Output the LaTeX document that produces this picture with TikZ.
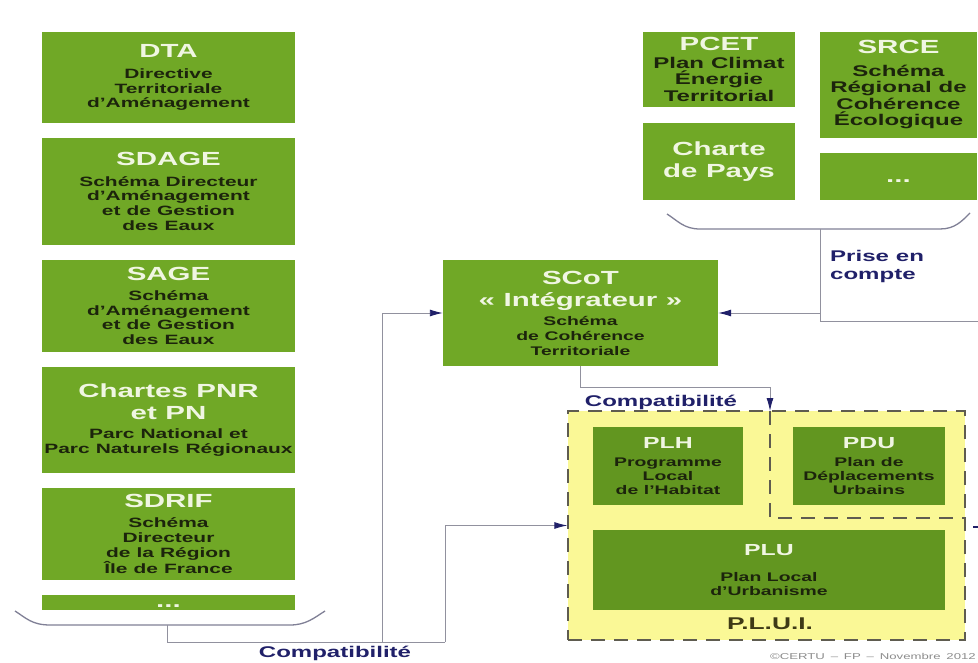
\documentclass[tikz,border=0pt]{standalone}
\usepackage{fontspec}
\setmainfont{Liberation Sans}[FakeStretch=1.55, WordSpace=1.6]
\usetikzlibrary{arrows.meta}
\setlength{\parindent}{0pt}
\definecolor{gfill}{RGB}{112,168,38}
\definecolor{dfill}{RGB}{98,150,32}
\definecolor{yfill}{RGB}{250,248,150}
\definecolor{ttlc}{RGB}{240,246,226}
\definecolor{subc}{RGB}{28,36,12}
\definecolor{navy}{RGB}{32,32,105}
\definecolor{linec}{RGB}{145,145,158}
\definecolor{pluic}{RGB}{62,58,22}
\definecolor{dashc}{RGB}{95,92,80}
\newcommand\dgsp{\spaceskip=.45em\relax}
\newcommand\dgT[1]{{\fontsize{19}{22}\selectfont\bfseries\dgsp\leavevmode\color{ttlc}#1\par}}
\newcommand\dgTs[1]{{\fontsize{16}{19}\selectfont\bfseries\dgsp\leavevmode\color{ttlc}#1\par}}
\newcommand\dgS[1]{{\fontsize{13.5}{14.8}\selectfont\bfseries\dgsp\leavevmode#1\par}}
\newcommand\dgM[1]{{\fontsize{15.5}{16.5}\selectfont\bfseries\dgsp\leavevmode#1\par}}
\newcommand\dgP[1]{{\fontsize{12.5}{14}\selectfont\bfseries\dgsp\leavevmode#1\par}}
\newcommand\dgC[1]{{\fontsize{12.5}{15}\selectfont\bfseries\dgsp\leavevmode#1\par}}
\newcommand\dgTi[1]{{\fontsize{19}{22}\selectfont\bfseries\color{ttlc}#1}}
\tikzset{
  gbox/.style n args={3}{fill=#1, draw=none, inner sep=0pt, minimum width=#2,
     minimum height=#3, text width=#2, align=center, text=subc},
  conn/.style={draw=linec, line width=0.9pt},
  arr/.style={conn, -{Latex[length=13pt,width=7pt,color=navy]}},
  brk/.style={draw=linec!85!navy, line width=1.3pt},
  lbl/.style={font=\fontsize{15.5}{18}\selectfont\bfseries\dgsp, text=navy, inner sep=0pt},
  dsh/.style={draw=dashc, line width=1.3pt, dash pattern=on 14pt off 9pt},
}
\begin{document}
\begin{tikzpicture}[x=1pt,y=-1pt]
\useasboundingbox[fill=white] (0,0) rectangle (978,663);

% left column
\node[gbox={gfill}{253pt}{91pt}] (dta) at (168.5,77.5)
  {\dgT{DTA}\vspace{6pt}\dgS{Directive\\Territoriale\\d'Aménagement}};
\node[gbox={gfill}{253pt}{107pt}] (sdage) at (168.5,191.5)
  {\dgT{SDAGE}\vspace{5.5pt}\dgS{Schéma Directeur\\d'Aménagement\\et de Gestion\\des Eaux}};
\node[gbox={gfill}{253pt}{92pt}] (sage) at (168.5,306)
  {\dgT{SAGE}\vspace{5pt}\dgS{Schéma\\d'Aménagement\\et de Gestion\\des Eaux}};
\node[gbox={gfill}{253pt}{106pt}] (pnr) at (168.5,420)
  {\dgT{Chartes PNR\\et PN}\vspace{5pt}\dgS{Parc National et\\Parc Naturels Régionaux}};
\node[gbox={gfill}{253pt}{92pt}] (sdrif) at (168.5,534)
  {\dgT{SDRIF}\vspace{5.5pt}\dgS{Schéma\\Directeur\\de la Région\\Île de France}};
\node[gbox={gfill}{253pt}{15pt}] (lmore) at (168.5,602.5)
  {\raisebox{-4.5pt}[0pt][0pt]{\dgTi{...}}};

% top right
\node[gbox={gfill}{152pt}{75pt}] (pcet) at (719,69.5)
  {\dgT{PCET}\vspace{1pt}\dgM{Plan Climat\\Énergie\\Territorial}};
\node[gbox={gfill}{157pt}{106pt}] (srce) at (898.5,85)
  {\dgT{SRCE}\vspace{6pt}\dgM{Schéma\\Régional de\\Cohérence\\Écologique}};
\node[gbox={gfill}{152pt}{77pt}] (pays) at (719,161.5)
  {\dgT{Charte\\de Pays}};
\node[gbox={gfill}{157pt}{47pt}] (rmore) at (898.5,176.5)
  {\raisebox{-6pt}[0pt][0pt]{\dgTi{...}}};

% SCoT
\node[gbox={gfill}{275pt}{106pt}] (scot) at (580.5,313)
  {\dgT{SCoT\\« Intégrateur »}\vspace{4pt}\dgC{Schéma\\de Cohérence\\Territoriale}};

% PLUi area
\node[fill=yfill, dsh, minimum width=397pt, minimum height=229pt, inner sep=0pt] (plui) at (766.5,525.5) {};
\coordinate (pluitop) at (770,411);
\coordinate (pduc) at (770,518);
\coordinate (pdue) at (plui.east |- pduc);
\draw[dsh] (pluitop) -- (pduc) -- (pdue);

\node[gbox={dfill}{150pt}{78pt}] (plh) at (668,466)
  {\dgTs{PLH}\vspace{4.5pt}\dgP{Programme\\Local\\de l'Habitat}};
\node[gbox={dfill}{152pt}{78pt}] (pdu) at (869,466)
  {\dgTs{PDU}\vspace{4.5pt}\dgP{Plan de\\Déplacements\\Urbains}};
\node[gbox={dfill}{352pt}{80pt}] (plu) at (769,570)
  {\dgTs{PLU}\vspace{12pt}\dgP{Plan Local\\d'Urbanisme}};
\node[font=\fontsize{17}{20}\selectfont\bfseries, text=pluic, inner sep=0pt] (pluilbl) at (770,624) {P.L.U.I.};

% brackets
\draw[brk] (15,611) .. controls (26,618) and (32,625) .. (50,625) -- (290,625)
  .. controls (306,625) and (314,618) .. (325,611);
\draw[brk] (667,214) .. controls (678,221) and (684,229) .. (700,229) -- (940,229)
  .. controls (955,229) and (962,221) .. (970,213);
\coordinate (lbr) at (167,625);
\coordinate (lbot) at (167,642);
\coordinate (ljA) at (382,642);
\coordinate (ljB) at (445,642);
\coordinate (rbr) at (820,229);
\coordinate (rbot) at (820,321);
\coordinate (rfar) at (990,321);
\coordinate (rarr) at (820,313);

% connectors
\draw[conn] (lbr) -- (lbot) -- (ljB);
\draw[arr] (ljA) |- (scot.west);
\draw[arr] (ljB) |- (plui.west);
\draw[conn] (rbr) -- (rbot) -- (rfar);
\draw[arr] (rarr) -- (scot.east);
\draw[arr] (scot.south) -- ++(0,21) -| (pluitop);
\coordinate (stubA) at (973,527);
\coordinate (stubB) at (990,527);
\draw[navy, line width=2pt] (stubA) -- (stubB);

% labels
\node[lbl] (cmp1) at (661,402) {Compatibilité};
\node[lbl] (cmp2) at (335,653) {Compatibilité};
\node[lbl, anchor=west, align=left] (pec) at (830,266) {Prise en\\compte};
\node[anchor=east, font=\fontsize{8.5}{10}\selectfont, text=black!45, inner sep=0pt] (cpy) at (976,656) {©CERTU – FP – Novembre 2012};
\end{tikzpicture}
\end{document}
